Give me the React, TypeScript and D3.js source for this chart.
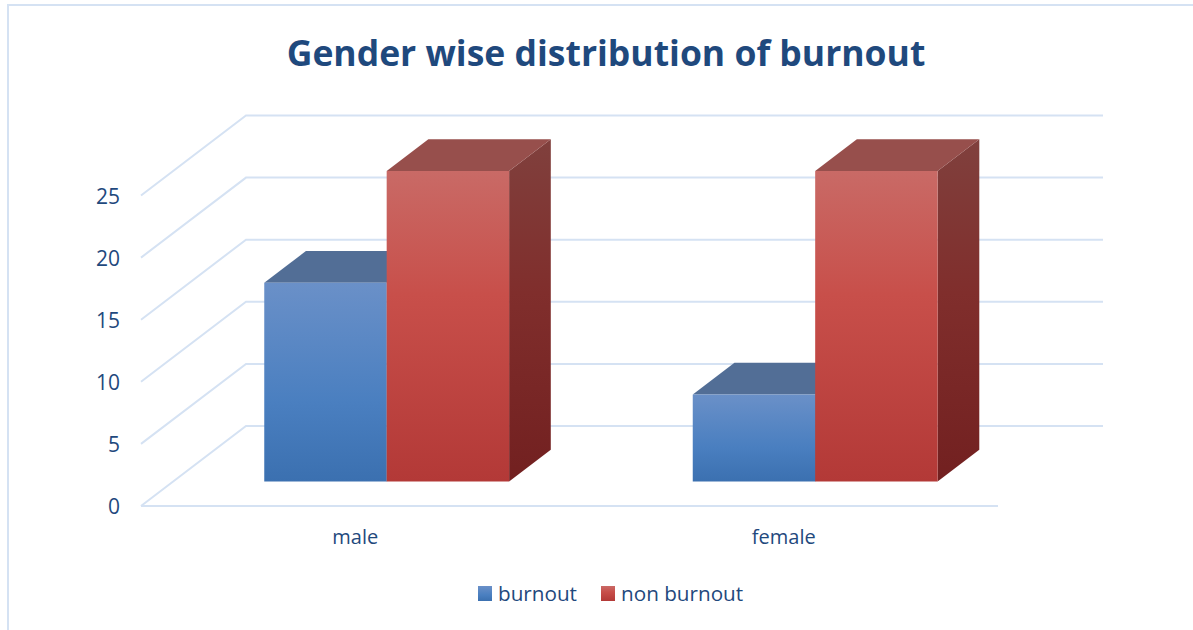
import React from "react";
import * as d3 from "d3";

const title = "Gender wise distribution of burnout";
const categories = ["male", "female"];
const seriesNames = ["burnout", "non burnout"];
const burnout = [16, 7];
const nonBurnout = [25, 25];
const yTicks = [0, 5, 10, 15, 20, 25];

const W = 1193, H = 630;
const FLOOR_Y = 506, LEFT = 141, RIGHT = 998;
const DX = 105, DY = 80;
const Z_FRONT = 0.306, Z_BACK = 0.703;
const TEXT = "#1f497d", GRID = "#d5e2f3";
const FONT = "'Open Sans', Lato, sans-serif";

const h = d3.scaleLinear().domain([0, 25]).range([0, 310.5]);
const xBand = d3.scaleBand<string>().domain(categories).range([LEFT, RIGHT]);
const xSeries = d3.scaleBand<string>().domain(seriesNames).range([0, xBand.bandwidth()]).paddingOuter(0.75);
const BAR_SHIFT = -0.7;

const project = (x: number, v: number, z: number): [number, number] => [x + z * DX, FLOOR_Y - h(v) - z * DY];
const poly = (pts: [number, number][]) => pts.map((p) => p.map((n) => n.toFixed(2)).join(",")).join(" ");

function Bar({ cat, name, value, idx }: { cat: string; name: string; value: number; idx: number }) {
  const x0 = xBand(cat)! + xSeries(name)! + BAR_SHIFT;
  const x1 = x0 + xSeries.bandwidth();
  const key = idx === 0 ? "blue" : "red";
  return (
    <g>
      <polygon
        points={poly([project(x1, 0, Z_FRONT), project(x1, value, Z_FRONT), project(x1, value, Z_BACK), project(x1, 0, Z_BACK)])}
        fill={`url(#${key}Side)`}
      />
      <polygon
        points={poly([project(x0, value, Z_FRONT), project(x1, value, Z_FRONT), project(x1, value, Z_BACK), project(x0, value, Z_BACK)])}
        fill={idx === 0 ? "#526e96" : "#974f4c"}
      />
      <polygon
        points={poly([project(x0, 0, Z_FRONT), project(x1, 0, Z_FRONT), project(x1, value, Z_FRONT), project(x0, value, Z_FRONT)])}
        fill={`url(#${key}Face)`}
      />
    </g>
  );
}

export default function App() {
  return (
    <svg width={W} height={H} viewBox={`0 0 ${W} ${H}`} style={{ position: "absolute", left: 0, top: 0, display: "block", background: "#fff" }}>
      <defs>
        <linearGradient id="blueFace" x1="0" y1="0" x2="0" y2="1">
          <stop offset="0" stopColor="#6a90c8" />
          <stop offset="0.6" stopColor="#4a7fc0" />
          <stop offset="1" stopColor="#3b70b0" />
        </linearGradient>
        <linearGradient id="redFace" x1="0" y1="0" x2="0" y2="1">
          <stop offset="0" stopColor="#c96a66" />
          <stop offset="0.4" stopColor="#c84f4a" />
          <stop offset="1" stopColor="#b33937" />
        </linearGradient>
        <linearGradient id="blueSide" x1="0" y1="0" x2="0" y2="1">
          <stop offset="0" stopColor="#4a6a96" />
          <stop offset="1" stopColor="#2a5080" />
        </linearGradient>
        <linearGradient id="redSide" x1="0" y1="0" x2="0" y2="1">
          <stop offset="0" stopColor="#80403d" />
          <stop offset="0.45" stopColor="#802e2c" />
          <stop offset="1" stopColor="#722020" />
        </linearGradient>
      </defs>

      <path d={`M${W},5 H8 V${H}`} fill="none" stroke={GRID} strokeWidth={2} />

      <text x={606} y={66} textAnchor="middle" fontFamily={FONT} fontWeight={700} fontSize={35.5} fill={TEXT}>
        {title}
      </text>

      {yTicks.map((t) => {
        const a = project(LEFT, t, 0);
        const b = project(LEFT, t, 1);
        const c = project(RIGHT, t, 1);
        return <polyline key={t} points={poly([a, b, c])} fill="none" stroke={GRID} strokeWidth={2} />;
      })}
      <line x1={LEFT} x2={RIGHT} y1={FLOOR_Y} y2={FLOOR_Y} stroke={GRID} strokeWidth={2} />

      {yTicks.map((t) => (
        <text key={t} x={120} y={project(LEFT, t, 0)[1] + 8} textAnchor="end" fontFamily={FONT} fontSize={21} fill={TEXT}>
          {t}
        </text>
      ))}

      {categories.map((c, i) => (
        <g key={c}>
          <Bar cat={c} name={seriesNames[0]} value={burnout[i]} idx={0} />
          <Bar cat={c} name={seriesNames[1]} value={nonBurnout[i]} idx={1} />
          <text x={xBand(c)! + xBand.bandwidth() / 2} y={544} textAnchor="middle" fontFamily={FONT} fontSize={20} fill={TEXT}>
            {c}
          </text>
        </g>
      ))}

      <rect x={478} y={586} width={14} height={15} fill="url(#blueFace)" />
      <text x={498} y={601} fontFamily={FONT} fontSize={20.7} fill={TEXT}>{seriesNames[0]}</text>
      <rect x={601} y={586} width={14} height={15} fill="url(#redFace)" />
      <text x={621} y={601} fontFamily={FONT} fontSize={20.7} fill={TEXT}>{seriesNames[1]}</text>
    </svg>
  );
}
